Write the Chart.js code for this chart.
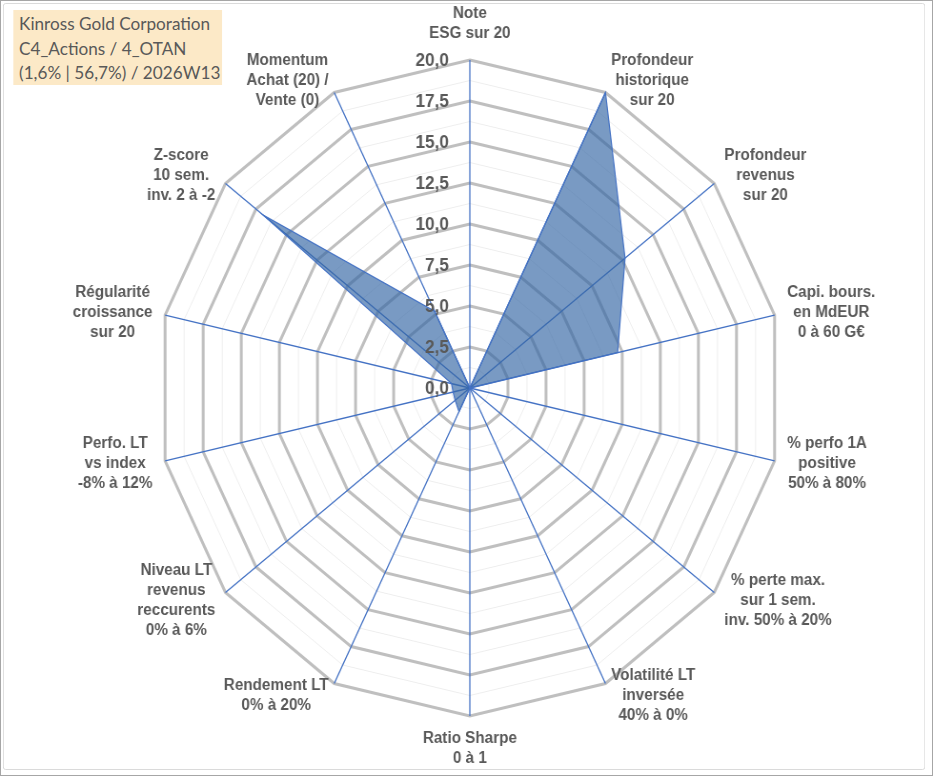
<!DOCTYPE html>
<html lang="fr">
<head>
<meta charset="UTF-8">
<title>Kinross Gold Corporation - radar</title>
<script src="https://cdn.jsdelivr.net/npm/chart.js@4"></script>
<style>
    html, body {
        margin: 0;
        padding: 0;
        background: #fff;
    }
    #page {
        position: relative;
        width: 933px;
        height: 776px;
        overflow: hidden;
    }
    #outer {
        position: absolute;
        left: 0;
        top: 0;
        width: 931px;
        height: 774px;
        border: 1px solid #a6a6a6;
        pointer-events: none;
    }
    /* the picture is a bit squeezed sideways, so draw wide and squeeze it back */
    #frame {
        position: absolute;
        left: 0;
        top: 0;
        width: 979px;
        height: 776px;
        transform: scaleX(0.953);
        transform-origin: 0 0;
    }
    #border {
        position: absolute;
        left: 3px;
        top: 3px;
        width: 966px;
        height: 765px;
        border: 1px solid #d9d9d9;
        border-radius: 3px;
        pointer-events: none;
    }
    canvas {
        position: absolute;
        left: 0;
        top: 0;
    }
    #title {
        position: absolute;
        left: 14px;
        top: 10px;
        width: 219px;
        height: 75px;
        background: #fce9c7;
        color: #595959;
        font-family: Lato, "Liberation Sans", sans-serif;
        font-size: 18px;
        line-height: 24.5px;
        padding: 1px 0 0 6px;
        box-sizing: border-box;
        white-space: nowrap;
    }
</style>
</head>
<body>
<div id="page">
    <div id="frame">
        <canvas id="chart" width="979" height="776"></canvas>
        <div id="title">Kinross Gold Corporation<br>C4_Actions / 4_OTAN<br>(1,6% | 56,7%) / 2026W13</div>
        <div id="border"></div>
    </div>
    <div id="outer"></div>
</div>
<script>
// axes, clockwise from the top
const axisLabels = [
    ['Note', 'ESG sur 20'],
    ['Profondeur', 'historique', 'sur 20'],
    ['Profondeur', 'revenus', 'sur 20'],
    ['Capi. bours.', 'en MdEUR', '0 à 60 G€'],
    ['% perfo 1A', 'positive', '50% à 80%'],
    ['% perte max.', 'sur 1 sem.', 'inv. 50% à 20%'],
    ['Volatilité LT', 'inversée', '40% à 0%'],
    ['Ratio Sharpe', '0 à 1'],
    ['Rendement LT', '0% à 20%'],
    ['Niveau LT', 'revenus', 'reccurents', '0% à 6%'],
    ['Perfo. LT', 'vs index', '-8% à 12%'],
    ['Régularité', 'croissance', 'sur 20'],
    ['Z-score', '10 sem.', 'inv. 2 à -2'],
    ['Momentum', 'Achat (20) /', 'Vente (0)']
];
const scores = [0, 20, 12.7, 9.7, 0, 0, 0, 0, 1.6, 1.2, 1.1, 1.2, 16.9, 5.2];
const scaleMin = 0;
const scaleMax = 20;
const scaleStep = 1.25;   // every other ring is a major one (2,5)

const grey = '#595959';
const fontFamily = '"Liberation Sans", Arial, sans-serif';

// tick labels left of the vertical axis, right aligned, drawn over the fill
const tickLabelPlugin = {
    id: 'tickLabels',
    afterDatasetsDraw(chart) {
        const s = chart.scales.r;
        const ctx = chart.ctx;
        ctx.save();
        ctx.font = 'bold 18px ' + fontFamily;
        ctx.fillStyle = grey;
        ctx.textAlign = 'right';
        ctx.textBaseline = 'middle';
        s.ticks.forEach((t, i) => {
            if (i % 2 !== 0) return;
            const y = s.yCenter - s.getDistanceFromCenterForValue(t.value);
            ctx.fillText(t.value.toFixed(1).replace('.', ','), s.xCenter - 22, y + 1);
        });
        ctx.restore();
    }
};

// axis names centred as blocks beside each outer corner, like the office chart
const axisNamePlugin = {
    id: 'axisNames',
    afterDatasetsDraw(chart) {
        const s = chart.scales.r;
        const ctx = chart.ctx;
        const lh = 20;
        ctx.save();
        ctx.font = 'bold 16px ' + fontFamily;
        ctx.fillStyle = grey;
        ctx.textAlign = 'center';
        ctx.textBaseline = 'middle';
        axisLabels.forEach((lines, i) => {
            const a = s.getIndexAngle(i);
            const p = s.getPointPosition(i, s.drawingArea);
            const sn = Math.sin(a), cs = Math.cos(a);
            const w = Math.max(...lines.map(l => ctx.measureText(l).width));
            const h = lines.length * lh;
            let cx, cy;
            if (Math.abs(sn) < 0.01) {
                cx = p.x;
                cy = cs > 0 ? p.y - 16 - h / 2 : p.y + 13 + h / 2;
            } else {
                const gap = 13.6 * Math.abs(sn);
                cx = p.x + Math.sign(sn) * (w / 2 + gap);
                cy = p.y - 13 * cs;
            }
            lines.forEach((l, k) => ctx.fillText(l, cx, cy - h / 2 + lh * (k + 0.5)));
        });
        ctx.restore();
    }
};

new Chart(document.getElementById('chart'), {
    type: 'radar',
    data: {
        labels: axisLabels,
        datasets: [{
            data: scores,
            backgroundColor: 'rgba(52, 101, 164, 0.66)',
            borderColor: '#4472c4',
            borderWidth: 1.2,
            pointRadius: 0,
            fill: true
        }]
    },
    options: {
        responsive: false,
        animation: false,
        layout: { padding: { top: 60, bottom: 60, left: 165, right: 158 } },
        plugins: {
            legend: { display: false },
            tooltip: { enabled: false }
        },
        scales: {
            r: {
                min: scaleMin,
                max: scaleMax,
                ticks: { stepSize: scaleStep, display: false },
                grid: {
                    color: c => c.index % 2 === 0 ? '#bfbfbf' : '#eeeeee',
                    lineWidth: c => c.index % 2 === 0 ? 3 : 1
                },
                angleLines: { color: '#4472c4', lineWidth: 1.3 },
                pointLabels: { display: false }
            }
        }
    },
    plugins: [tickLabelPlugin, axisNamePlugin]
});
</script>
</body>
</html>
